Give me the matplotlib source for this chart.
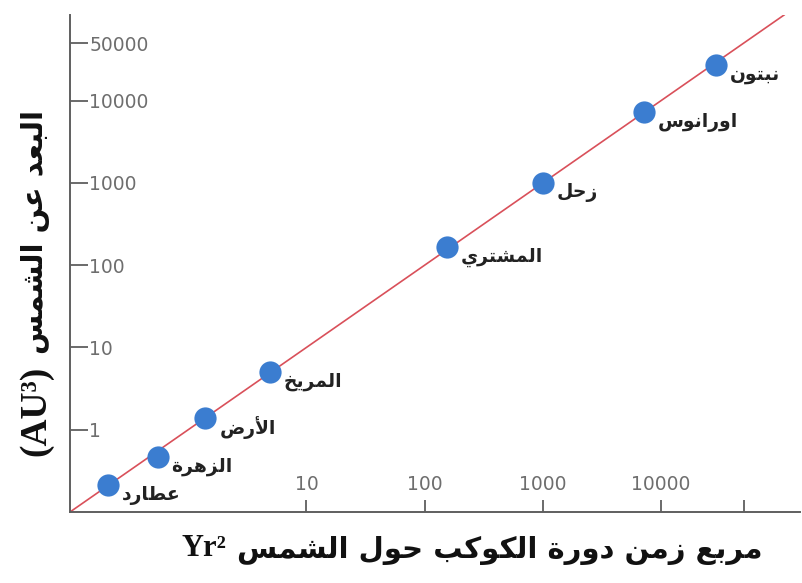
import matplotlib
matplotlib.use("Agg")
import matplotlib.pyplot as plt

# planets: squared orbital period (Yr^2) vs cubed distance (AU^3), as drawn
planets = ["عطارد", "الزهرة", "الأرض", "المريخ", "المشتري", "زحل", "اورانوس", "نبتون"]
period_sq = [0.21, 0.55, 1.4, 4.9, 155, 1000, 7200, 29000]
distance_cu = [0.21, 0.47, 1.4, 5.0, 165, 1000, 7200, 27000]

x_ticks = [10, 100, 1000, 10000, 50000]
x_tick_labels = ["10", "100", "1000", "10000", ""]
y_ticks = [1, 10, 100, 1000, 10000, 50000]
y_tick_labels = ["1", "10", "100", "1000", "10000", "50000"]

x_title = "مربع زمن دورة الكوكب حول الشمس"
x_unit = "Yr²"
y_title = "البعد عن الشمس"
y_unit = "(AU³)"

# --- minimal arabic shaping (matplotlib has no text shaping) ---
# isolated, final, initial, medial
FORMS = {
    "ا": ("\uFE8D", "\uFE8E", None, None),
    "أ": ("\uFE83", "\uFE84", None, None),
    "ب": ("\uFE8F", "\uFE90", "\uFE91", "\uFE92"),
    "ة": ("\uFE93", "\uFE94", None, None),
    "ت": ("\uFE95", "\uFE96", "\uFE97", "\uFE98"),
    "ح": ("\uFEA1", "\uFEA2", "\uFEA3", "\uFEA4"),
    "خ": ("\uFEA5", "\uFEA6", "\uFEA7", "\uFEA8"),
    "د": ("\uFEA9", "\uFEAA", None, None),
    "ر": ("\uFEAD", "\uFEAE", None, None),
    "ز": ("\uFEAF", "\uFEB0", None, None),
    "س": ("\uFEB1", "\uFEB2", "\uFEB3", "\uFEB4"),
    "ش": ("\uFEB5", "\uFEB6", "\uFEB7", "\uFEB8"),
    "ض": ("\uFEBD", "\uFEBE", "\uFEBF", "\uFEC0"),
    "ط": ("\uFEC1", "\uFEC2", "\uFEC3", "\uFEC4"),
    "ع": ("\uFEC9", "\uFECA", "\uFECB", "\uFECC"),
    "ك": ("\uFED9", "\uFEDA", "\uFEDB", "\uFEDC"),
    "ل": ("\uFEDD", "\uFEDE", "\uFEDF", "\uFEE0"),
    "م": ("\uFEE1", "\uFEE2", "\uFEE3", "\uFEE4"),
    "ن": ("\uFEE5", "\uFEE6", "\uFEE7", "\uFEE8"),
    "ه": ("\uFEE9", "\uFEEA", "\uFEEB", "\uFEEC"),
    "و": ("\uFEED", "\uFEEE", None, None),
    "ي": ("\uFEF1", "\uFEF2", "\uFEF3", "\uFEF4"),
}
LAM_ALEF = {"ا": ("\uFEFB", "\uFEFC", None, None), "أ": ("\uFEF7", "\uFEF8", None, None)}


def rtl(text):
    units = []
    i = 0
    while i < len(text):
        c = text[i]
        if c == "ل" and i + 1 < len(text) and text[i + 1] in LAM_ALEF:
            units.append(LAM_ALEF[text[i + 1]])
            i += 2
            continue
        units.append(FORMS.get(c, c))
        i += 1
    out = []
    for k, u in enumerate(units):
        if not isinstance(u, tuple):
            out.append(u)
            continue
        prev = units[k - 1] if k > 0 else None
        nxt = units[k + 1] if k + 1 < len(units) else None
        p = isinstance(prev, tuple) and prev[2] is not None
        n = isinstance(nxt, tuple) and u[2] is not None
        if p and n:
            out.append(u[3])
        elif p:
            out.append(u[1])
        elif n:
            out.append(u[2])
        else:
            out.append(u[0])
    return "".join(reversed(out))


axis_grey = "#5f5f5f"
tick_grey = "#6e6e6e"
dot_blue = "#3b7dd0"
line_red = "#d9505a"

fig = plt.figure(figsize=(8.03, 5.83), dpi=100)
ax = fig.add_axes([70 / 803, 1 - 512 / 583, 730 / 803, 497 / 583])
ax.set_xscale("log")
ax.set_yscale("log")
ax.set_xlim(0.1, 1.5e5)
ax.set_ylim(0.1, 1.1e5)

ax.axline((1, 1), (10, 10), color=line_red, lw=1.2, zorder=2)
ax.plot(period_sq, distance_cu, "o", ms=16, color=dot_blue, mec="none", zorder=3, clip_on=False)

for name, x, y in zip(planets, period_sq, distance_cu):
    ax.annotate(rtl(name), (x, y), xytext=(10, -7), textcoords="offset points",
                ha="left", va="center", fontsize=13.5, fontweight="bold",
                color="#222222", family=["DejaVu Sans"])

for side in ("top", "right"):
    ax.spines[side].set_visible(False)
for side in ("left", "bottom"):
    ax.spines[side].set_color(axis_grey)
    ax.spines[side].set_linewidth(1.4)

ax.minorticks_off()
ax.set_xticks(x_ticks)
ax.set_xticklabels(x_tick_labels)
ax.set_yticks(y_ticks)
ax.set_yticklabels(y_tick_labels)
ax.tick_params(axis="y", direction="in", length=13, width=1.3, color=axis_grey,
               labelcolor=tick_grey, labelsize=13.5, pad=-14)
ax.tick_params(axis="x", direction="in", length=9, width=1.3, color=axis_grey,
               labelcolor=tick_grey, labelsize=13.5, pad=-13)
for lbl in ax.get_yticklabels():
    lbl.set_horizontalalignment("left")
for lbl in ax.get_xticklabels():
    lbl.set_verticalalignment("bottom")

# x axis title: arabic part + latin unit on its left
fig.text(763 / 803, 1 - 550 / 583, rtl(x_title), ha="right", va="center",
         fontsize=21, fontweight="bold", color="#111111", family=["DejaVu Sans"])
fig.text(226 / 803, 1 - 548 / 583, x_unit, ha="right", va="center",
         fontsize=22, fontweight="bold", color="#111111", family=["Liberation Serif"])

# y axis title, rotated
fig.text(36 / 803, 1 - 110 / 583, rtl(y_title), ha="center", va="top", rotation=90,
         fontsize=21, fontweight="bold", color="#111111", family=["DejaVu Sans"])
fig.text(36 / 803, 1 - 456 / 583, y_unit, ha="center", va="bottom", rotation=90,
         fontsize=27, fontweight="bold", color="#111111", family=["Liberation Serif"])

fig.savefig("out.png", dpi=100)
